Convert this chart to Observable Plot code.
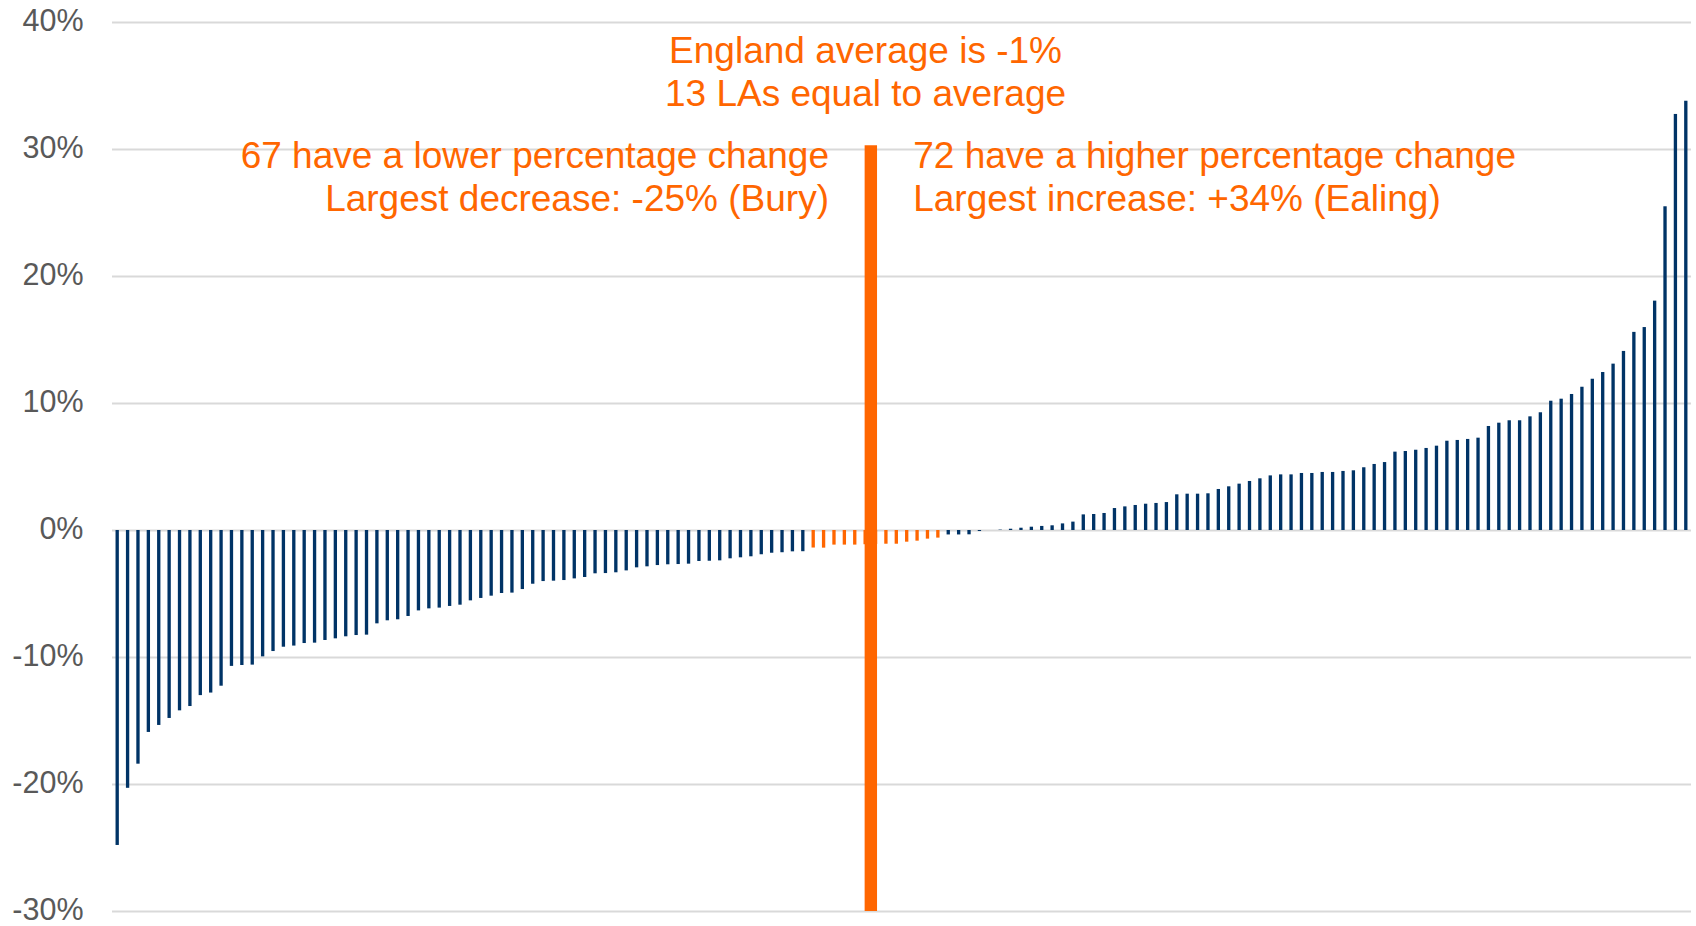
<!DOCTYPE html>
<html><head><meta charset="utf-8">
<script src="https://cdn.jsdelivr.net/npm/d3@7"></script>
<script src="https://cdn.jsdelivr.net/npm/@observablehq/plot@0.6"></script>
<style>body{margin:0;background:#fff;} svg{display:block}</style>
</head><body><div id="chart"></div>
<script>
// Percentage change by local authority, sorted ascending
const lowerValues = [
  -24.8, -20.3, -18.4, -15.9, -15.35, -14.8, -14.2, -13.86, -13.0, -12.8,
  -12.26, -10.7, -10.63, -10.6, -9.95, -9.53, -9.19, -9.1, -8.9, -8.87,
  -8.66, -8.53, -8.37, -8.27, -8.24, -7.35, -7.11, -7.03,
  -6.77, -6.33, -6.17, -6.11, -5.98, -5.88, -5.54, -5.35, -5.17, -4.96,
  -4.93, -4.65, -4.23, -4.02, -3.99, -3.94, -3.81, -3.70, -3.41, -3.39,
  -3.33, -3.18, -2.94, -2.86, -2.76, -2.70, -2.68, -2.65, -2.44, -2.42,
  -2.39, -2.23, -2.15, -2.07, -1.91, -1.79, -1.75, -1.68, -1.67
];
const averageValues = [
  -1.38, -1.39, -1.15, -1.15, -1.15, -1.12, -1.10, -1.08, -1.08, -0.92, -0.84, -0.68, -0.60
];
const higherValues = [
  -0.35, -0.35, -0.34, -0.08, 0, 0.03, 0.1, 0.18, 0.26, 0.32, 0.37,
  0.52, 0.66, 1.23, 1.26, 1.34, 1.73, 1.86, 1.97, 2.07, 2.13, 2.2, 2.81, 2.86, 2.86,
  2.89, 3.23, 3.44, 3.65, 3.86, 4.07, 4.3, 4.38, 4.38, 4.49, 4.49, 4.57, 4.57, 4.65, 4.7,
  4.94, 5.2, 5.35, 6.17, 6.22, 6.32, 6.46, 6.64, 7.03, 7.09, 7.17, 7.27, 8.19, 8.45,
  8.64, 8.64, 8.95, 9.27, 10.18, 10.34, 10.71, 11.28, 11.91, 12.44, 13.1, 14.1, 15.6,
  15.98, 18.06, 25.49, 32.76, 33.8
];
const yTicks = [-30, -20, -10, 0, 10, 20, 30, 40];
const averageText = ["England average is -1%", "13 LAs equal to average"];
const lowerText = ["67 have a lower percentage change", "Largest decrease: -25% (Bury)"];
const higherText = ["72 have a higher percentage change", "Largest increase: +34% (Ealing)"];

const NAVY = "#003366";
const ORANGE = "#FF6600";
const FONT = "'Liberation Sans', Arial, sans-serif";

const rows = [
  ...lowerValues.map(v => ({value: v, group: "lower"})),
  ...averageValues.map(v => ({value: v, group: "average"})),
  ...higherValues.map(v => ({value: v, group: "higher"}))
].map((d, i) => ({...d, i}));
const n = rows.length;
const linePos = lowerValues.length + Math.floor(averageValues.length / 2);

const chart = Plot.plot({
  width: 1696,
  height: 926,
  marginLeft: 112,
  marginRight: 5,
  marginTop: 22,
  marginBottom: 15,
  style: {fontFamily: FONT, background: "#fff", overflow: "visible"},
  x: {domain: [0, n], axis: null},
  y: {domain: [-30, 40], axis: null},
  marks: [
    Plot.ruleY(yTicks, {stroke: "#d9d9d9", strokeWidth: 2}),
    Plot.axisY(yTicks, {tickSize: 0, tickPadding: 29, dy: -1.5, tickFormat: d => d + "%", fontSize: 30.5, color: "#595959", label: null}),
    Plot.rectY(rows, {
      x1: d => d.i + 0.34,
      x2: d => d.i + 0.66,
      y: "value",
      fill: d => d.group === "average" ? ORANGE : NAVY
    }),
    Plot.ruleX([linePos], {y1: -30, y2: 30.3, stroke: ORANGE, strokeWidth: 12.4}),
    Plot.text([averageText.join("\n")], {x: 72.49, y: 36.22, text: d => d, fontSize: 37, lineHeight: 1.17, fill: ORANGE, textAnchor: "middle", fontFamily: FONT}),
    Plot.text([lowerText.join("\n")], {x: 68.97, y: 27.93, text: d => d, fontSize: 37, lineHeight: 1.15, fill: ORANGE, textAnchor: "end", fontFamily: FONT}),
    Plot.text([higherText.join("\n")], {x: 77.08, y: 27.93, text: d => d, fontSize: 37, lineHeight: 1.15, fill: ORANGE, textAnchor: "start", fontFamily: FONT})
  ]
});
document.getElementById("chart").appendChild(chart);
</script>
</body></html>
